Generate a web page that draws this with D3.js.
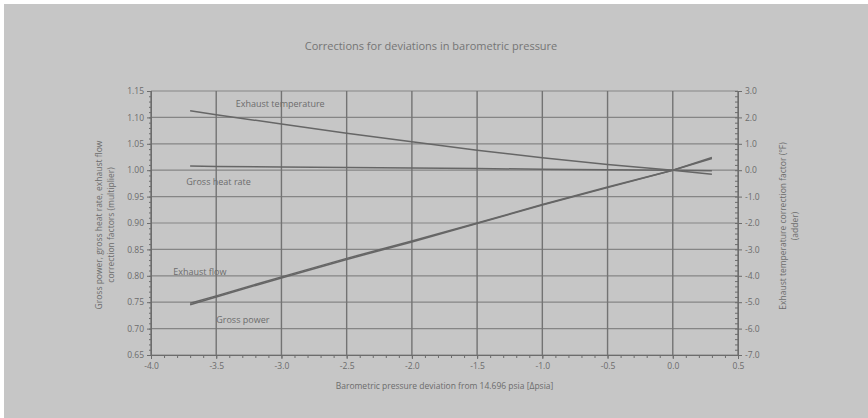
<!DOCTYPE html>
<html>
<head>
<meta charset="utf-8">
<script src="https://cdn.jsdelivr.net/npm/d3@7"></script>
<style>
  body { margin: 0; background: #ffffff; }
  svg text { font-family: "Open Sans", "DejaVu Sans", sans-serif; fill: #6c6c6c; }
</style>
</head>
<body>
<svg id="chart" width="868" height="418"></svg>
<script>
'use strict';

// values
var pressureDev   = [-3.7, -3.5, -3.0, -2.5, -2.0, -1.5, -1.0, -0.5, 0.0, 0.3];
var exhaustTemp   = [2.25, 2.10, 1.75, 1.40, 1.08, 0.76, 0.47, 0.22, 0.00, -0.15];
var grossHeatRate = [1.008, 1.007, 1.006, 1.005, 1.004, 1.003, 1.002, 1.001, 1.000, 0.999];
var exhaustFlow   = [0.748, 0.762, 0.798, 0.833, 0.866, 0.900, 0.935, 0.968, 1.000, 1.022];
var grossPower    = [0.745, 0.760, 0.796, 0.831, 0.864, 0.899, 0.934, 0.967, 1.000, 1.024];

var xTicks      = [-4.0, -3.5, -3.0, -2.5, -2.0, -1.5, -1.0, -0.5, 0.0, 0.5];
var yLeftTicks  = [0.65, 0.70, 0.75, 0.80, 0.85, 0.90, 0.95, 1.00, 1.05, 1.10, 1.15];
var yRightTicks = [-7, -6, -5, -4, -3, -2, -1, 0, 1, 2, 3];

var margin = {top: 91, right: 130, bottom: 63, left: 151},
    W = 868, H = 418,
    width  = W - margin.left - margin.right,
    height = H - margin.top - margin.bottom;

var svg = d3.select("#chart");

// scanned-paper grey background
svg.append("rect").attr("x", 4).attr("y", 4).attr("width", W - 4).attr("height", H - 4)
    .style("fill", "#c6c6c6");

var g = svg.append("g").attr("transform", "translate(" + margin.left + "," + margin.top + ")");

var x  = d3.scaleLinear().domain([-4.0, 0.5]).range([0, width]),
    yL = d3.scaleLinear().domain([0.65, 1.15]).range([height, 0]),
    yR = d3.scaleLinear().domain([-7, 3]).range([height, 0]);

// hyphen instead of unicode minus, as on the scan
function fmt(p) {
    var f = d3.format("." + p + "f");
    return function(d){ return f(d).replace("\u2212", "-"); };
}

// grid
g.selectAll("line.hgrid").data(yLeftTicks).enter().append("line")
    .attr("x1", 0).attr("x2", width)
    .attr("y1", function(d){ return yL(d); }).attr("y2", function(d){ return yL(d); })
    .style("stroke", "#858585").style("stroke-width", 1.2);
g.selectAll("line.vgrid").data(xTicks).enter().append("line")
    .attr("y1", 0).attr("y2", height)
    .attr("x1", function(d){ return x(d); }).attr("x2", function(d){ return x(d); })
    .style("stroke", "#737373").style("stroke-width", 1.4);

// axes
function styleAxis(sel) {
    sel.select(".domain").style("stroke", "#6c6c6c");
    sel.selectAll(".tick line").style("stroke", "#6c6c6c");
    sel.selectAll("text").style("font-size", "8.5px").style("fill", "#6c6c6c");
}

var xMinor = d3.range(-40, 6).map(function(d){ return d / 10; });
g.append("g").attr("transform", "translate(0," + height + ")")
    .call(d3.axisBottom(x).tickValues(xMinor).tickSize(3).tickFormat(""))
    .call(styleAxis);
g.append("g").attr("transform", "translate(0," + height + ")")
    .call(d3.axisBottom(x).tickValues(xTicks).tickSize(4).tickPadding(4).tickFormat(fmt(1)))
    .call(styleAxis);

var yLMinor = d3.range(65, 116).map(function(d){ return d / 100; });
g.append("g")
    .call(d3.axisLeft(yL).tickValues(yLMinor).tickSize(2).tickFormat(""))
    .call(styleAxis);
g.append("g")
    .call(d3.axisLeft(yL).tickValues(yLeftTicks).tickSize(4).tickPadding(3).tickFormat(fmt(2)))
    .call(styleAxis);

var yRMinor = d3.range(-35, 16).map(function(d){ return d / 5; });
g.append("g").attr("transform", "translate(" + width + ",0)")
    .call(d3.axisRight(yR).tickValues(yRMinor).tickSize(-3).tickFormat(""))
    .call(styleAxis);
g.append("g").attr("transform", "translate(" + width + ",0)")
    .call(d3.axisRight(yR).tickValues(yRightTicks).tickSize(4).tickPadding(3).tickFormat(fmt(1)))
    .call(styleAxis);

// series
var lineL = d3.line()
    .x(function(d, i){ return x(pressureDev[i]); })
    .y(function(d){ return yL(d); });
var lineR = d3.line()
    .x(function(d, i){ return x(pressureDev[i]); })
    .y(function(d){ return yR(d); });

[grossHeatRate, exhaustFlow, grossPower].forEach(function(s){
    g.append("path").attr("d", lineL(s))
        .style("fill", "none").style("stroke", "#666666").style("stroke-width", 1.5);
});
g.append("path").attr("d", lineR(exhaustTemp))
    .style("fill", "none").style("stroke", "#666666").style("stroke-width", 1.5);

// series labels
var labels = [
    {t: "Exhaust temperature", x: -3.35, y: 1.125},
    {t: "Gross heat rate",     x: -3.73, y: 0.977},
    {t: "Exhaust flow",        x: -3.83, y: 0.808},
    {t: "Gross power",         x: -3.50, y: 0.717}
];
g.selectAll("text.lbl").data(labels).enter().append("text")
    .attr("x", function(d){ return x(d.x); })
    .attr("y", function(d){ return yL(d.y); })
    .attr("dy", "0.35em")
    .style("font-size", "9px")
    .text(function(d){ return d.t; });

// titles
svg.append("text").attr("x", 431).attr("y", 50).attr("text-anchor", "middle")
    .style("font-size", "11px").style("fill", "#757575")
    .text("Corrections for deviations in barometric pressure");

svg.append("text").attr("x", margin.left + width / 2).attr("y", 389).attr("text-anchor", "middle")
    .style("font-size", "8.5px")
    .text("Barometric pressure deviation from 14.696 psia [\u0394psia]");

var yl = svg.append("text").attr("transform", "translate(102,225) rotate(-90)")
    .attr("text-anchor", "middle").style("font-size", "8.5px");
yl.append("tspan").attr("x", 0).attr("dy", 0).text("Gross power, gross heat rate, exhaust flow");
yl.append("tspan").attr("x", 0).attr("dy", "1.45em").text("correction factors (multiplier)");

var yr = svg.append("text").attr("transform", "translate(786,226) rotate(-90)")
    .attr("text-anchor", "middle").style("font-size", "8.5px");
yr.append("tspan").attr("x", 0).attr("dy", 0).text("Exhaust temperature correction factor (\u00b0F)");
yr.append("tspan").attr("x", 0).attr("dy", "1.4em").text("(adder)");
</script>
</body>
</html>
